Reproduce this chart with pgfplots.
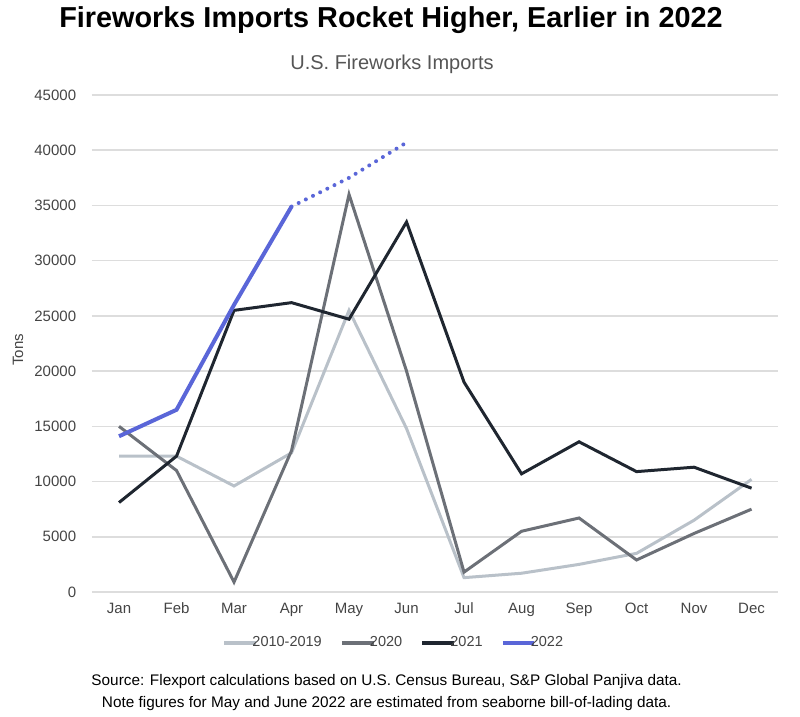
\documentclass[border=0pt]{standalone}
\usepackage{pgfplots}
\pgfplotsset{compat=1.18}
\usepackage{fontspec}
\setmainfont{Liberation Sans}
\definecolor{cLight}{HTML}{B9C1C9}
\definecolor{cMid}{HTML}{6C7077}
\definecolor{cDark}{HTML}{1F2630}
\definecolor{cBlue}{HTML}{5A66D8}
\definecolor{cGrid}{HTML}{DDDDDD}
\definecolor{cTick}{HTML}{444444}
\definecolor{cSub}{HTML}{555555}
\begin{document}
\begin{tikzpicture}
\useasboundingbox (0,0) rectangle (480pt,429.6pt);
\node[anchor=base, inner sep=0pt] at (234.6pt,412.8pt) {\fontsize{17.3pt}{20pt}\selectfont\bfseries Fireworks Imports Rocket Higher, Earlier in 2022};
\node[anchor=base, inner sep=0pt, text=cSub] at (235.2pt,387.6pt) {\fontsize{12pt}{14pt}\selectfont U.S. Fireworks Imports};
\node[rotate=90, inner sep=0pt, text=cTick] at (10.8pt,219.6pt) {\fontsize{9pt}{11pt}\selectfont Tons};
\begin{axis}[
  at={(55.2pt,74.4pt)}, anchor=south west,
  scale only axis, width=411.6pt, height=298.2pt,
  xmin=0.53, xmax=12.46, ymin=0, ymax=45000,
  axis line style={draw=none},
  xtick={1,...,12},
  xticklabels={Jan,Feb,Mar,Apr,May,Jun,Jul,Aug,Sep,Oct,Nov,Dec},
  ytick={0,5000,...,45000},
  ymajorgrids, grid style={cGrid, line width=0.9pt},
  major tick length=0pt,
  tick label style={text=cTick, font=\fontsize{9pt}{11pt}\selectfont},
  yticklabel style={xshift=-6pt},
  xticklabel style={yshift=-3pt},
  /pgf/number format/assume math mode=true,
  scaled y ticks=false,
  yticklabel={\pgfmathprintnumber[set thousands separator={},fixed]{\tick}},
  legend columns=4,
  legend style={at={(0.441,-0.1026)}, anchor=center, draw=none, fill=none,
    font=\fontsize{8.7pt}{10pt}\selectfont, text=cTick,
    /tikz/every even column/.append style={column sep=9pt},
    inner sep=0pt},
  legend cell align=left,
  legend image code/.code={\draw[#1, line width=2.2pt] (0,0) -- (19pt,0);},
  clip=false,
]
\addplot[cLight, line width=1.8pt] coordinates {
(1,12300)(2,12300)(3,9600)(4,12600)(5,25500)(6,14800)(7,1300)(8,1700)(9,2500)(10,3500)(11,6500)(12,10200)};
\addlegendentry{\hspace{-5.3pt}2010-2019}
\addplot[cMid, line width=1.8pt] coordinates {
(1,15000)(2,11000)(3,900)(4,12800)(5,36000)(6,20000)(7,1800)(8,5500)(9,6700)(10,2900)(11,5300)(12,7500)};
\addlegendentry{\hspace{-5.3pt}2020}
\addplot[cDark, line width=1.8pt] coordinates {
(1,8100)(2,12300)(3,25500)(4,26200)(5,24700)(6,33500)(7,19000)(8,10700)(9,13600)(10,10900)(11,11300)(12,9400)};
\addlegendentry{\hspace{-5.3pt}2021}
\addplot[cBlue, line width=2.4pt] coordinates {
(1,14100)(2,16500)(3,26000)(4,34900)};
\addlegendentry{\hspace{-5.3pt}2022}
\addplot[cBlue, line width=2.4pt, line cap=round, dash pattern=on 0pt off 4.8pt, forget plot] coordinates {
(4,34900)(5,37500)(6,40700)};
\end{axis}
\node[anchor=base, inner sep=0pt] at (232pt,18.6pt) {\fontsize{9.2pt}{11pt}\selectfont Source: Flexport calculations based on U.S. Census Bureau, S\&P Global Panjiva data.};
\node[anchor=base, inner sep=0pt] at (232pt,5.4pt) {\fontsize{9.2pt}{11pt}\selectfont Note figures for May and June 2022 are estimated from seaborne bill-of-lading data.};
\end{tikzpicture}
\end{document}
